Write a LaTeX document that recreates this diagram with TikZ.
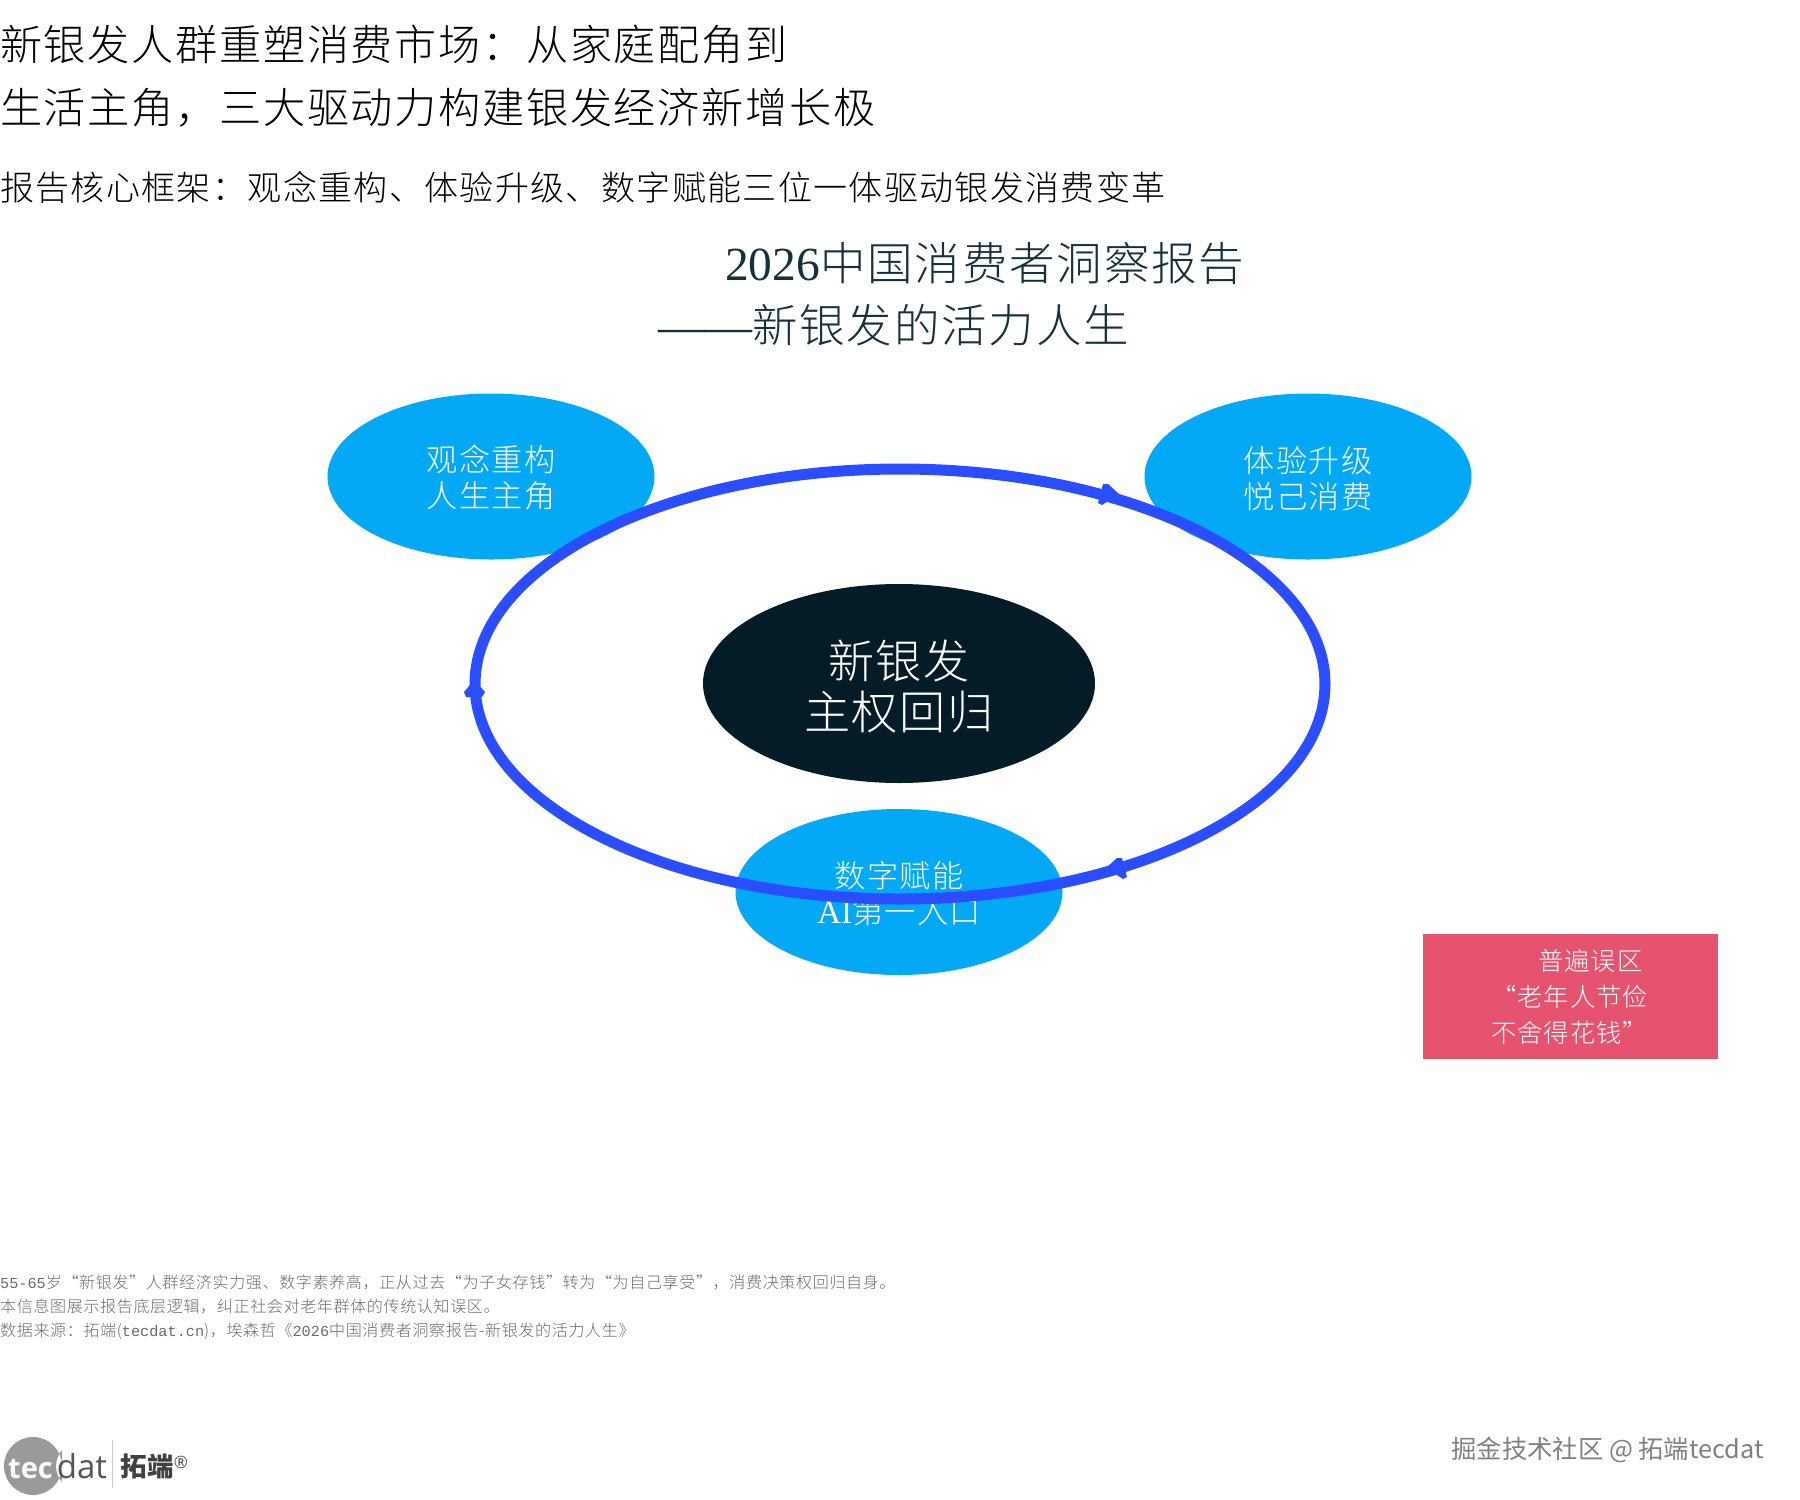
\documentclass[tikz,border=0pt]{standalone}
\usepackage{fontspec}
\usetikzlibrary{shapes.geometric}
\setmainfont[LetterSpace=4]{Noto Sans CJK SC Light}
\newfontfamily\cjkreg{Noto Sans CJK SC}
\newfontfamily\latf{Liberation Serif}
\newfontfamily\monof[Scale=0.95]{Liberation Mono}
\newfontfamily\logof{Open Sans}
\definecolor{skyblue}{HTML}{03A9F4}
\definecolor{ringblue}{HTML}{2A4DFF}
\definecolor{darknavy}{HTML}{041C28}
\definecolor{alertred}{HTML}{E5536F}
\definecolor{titledark}{HTML}{14303C}
\definecolor{footgrey}{HTML}{6A6A6A}
\definecolor{logogrey}{HTML}{9A9A9A}
\definecolor{logodark}{HTML}{555555}
\newcommand{\fsz}[2]{\fontsize{#1}{#2}\selectfont}
\newcommand{\dropA}{\rule{0pt}{.98em}}
\newcommand{\dropB}{\rule{0pt}{.94em}}
\tikzset{
  headline/.style={anchor=west,align=left,inner sep=0pt,text=black},
  pillar/.style={ellipse,fill=skyblue,text=white,align=center,inner sep=0pt,minimum width=327pt,minimum height=166pt,font=\fsz{31.2}{36}},
  hub/.style={ellipse,fill=darknavy,text=white,align=center,inner sep=0pt,minimum width=392pt,minimum height=199pt,font=\fsz{46.1}{51}},
  ringline/.style={draw=ringblue,line width=11pt},
  ringtip/.style={fill=ringblue},
}
\begin{document}
\begin{tikzpicture}[x=1pt,y=-1pt]
\useasboundingbox (0,0) rectangle (1800,1500);
% headings
\node[headline,font=\fsz{42.15}{63}] (title) at (0,76) {新银发人群重塑消费市场：从家庭配角到\\生活主角，三大驱动力构建银发经济新增长极};
\node[headline,font=\fsz{34}{36}] (subtitle) at (0,187.5) {报告核心框架：观念重构、体验升级、数字赋能三位一体驱动银发消费变革};
\node[headline,text=titledark,font=\fsz{45.5}{62}] (report) at (658,294) {\hspace*{67pt}{\latf\fontsize{47.5}{62}\selectfont 2026}中国消费者洞察报告\\{\latf\fontsize{47}{62}\selectfont ——}新银发的活力人生};
% ellipses
\node[pillar] (left) at (491,476.5) {\dropB 观念重构\\人生主角};
\node[pillar] (right) at (1308,476.5) {\dropB 体验升级\\悦己消费};
\node[pillar] (bottom) at (899,892) {\dropB 数字赋能\\{\latf\fontsize{33}{36}\selectfont AI}第一入口};
\node[hub] (hub) at (899,683.5) {\dropA 新银发\\主权回归};
% ring
\node[ellipse,ringline,minimum width=850pt,minimum height=430pt,inner sep=0pt] (ring) at (900,684) {};
\coordinate (tipA) at (1119,494);
\coordinate (barbA) at (1108,484);
\coordinate (barbAb) at (1103,484);
\coordinate (barbB) at (1102,505);
\coordinate (barbBb) at (1098,503);
\coordinate (tipC) at (474,680);
\coordinate (barbC) at (464,692);
\coordinate (barbCb) at (466,697);
\coordinate (barbD) at (485,692);
\coordinate (barbDb) at (482,697);
\coordinate (tipE) at (1106,868);
\coordinate (barbE) at (1117,858);
\coordinate (barbEb) at (1122,858);
\coordinate (barbF) at (1123,879);
\coordinate (barbFb) at (1127,877);
\fill[ringtip] (tipA) -- (barbA) -- (barbAb) -- (barbBb) -- (barbB) -- cycle;
\fill[ringtip] (tipC) -- (barbC) -- (barbCb) -- (barbDb) -- (barbD) -- cycle;
\fill[ringtip] (tipE) -- (barbE) -- (barbEb) -- (barbFb) -- (barbF) -- cycle;
% red box
\node[fill=alertred,text=white,minimum width=295pt,minimum height=125pt,inner sep=0pt] (alert) at (1570.5,996) {};
\node[anchor=west,align=left,inner sep=0pt,text=white,font=\fsz{25.3}{36}] (alerttext) at (1491,996.5) {\hspace*{47pt}普遍误区\\\hspace*{0pt}“老年人节俭\\不舍得花钱”};
% footnote
\node[headline,text=footgrey,font=\fsz{16.03}{24}] (foot) at (0,1307) {{\monof 55-65}岁“新银发”人群经济实力强、数字素养高，正从过去“为子女存钱”转为“为自己享受”，消费决策权回归自身。\\本信息图展示报告底层逻辑，纠正社会对老年群体的传统认知误区。\\数据来源：拓端({\monof tecdat.cn})，埃森哲《{\monof 2026}中国消费者洞察报告-新银发的活力人生》};
% logo
\begin{scope}
\path[clip] (0,1430) rectangle (62,1500);
\fill[logogrey,even odd rule] (33,1466) circle[radius=29pt] (80,1466) circle[radius=24pt];
\end{scope}
\node[anchor=west,inner sep=0pt,font={\logof\fontsize{33}{33}\selectfont}] (logoword) at (8,1466) {{\color{white}\bfseries\fontsize{29}{33}\selectfont tec}\hspace{4pt}{\color{logodark}dat}};
\node[minimum width=1pt,minimum height=48pt,inner sep=0pt,fill=black!20] (logobar) at (112,1464) {};
\node[anchor=west,inner sep=0pt,text=black!75,font={\cjkreg\bfseries\fontsize{26.5}{25}\selectfont}] (logocn) at (120.5,1466) {拓端};
\node[anchor=center,inner sep=0pt,text=black!70,font={\logof\fontsize{17}{14}\selectfont}] (logomark) at (181,1462) {®};
% watermark
\node[anchor=east,inner sep=0pt,text=black!50,font={\cjkreg\fontsize{25.3}{25}\selectfont}] (mark) at (1764,1450) {掘金技术社区 @ 拓端tecdat};
\end{tikzpicture}
\end{document}
